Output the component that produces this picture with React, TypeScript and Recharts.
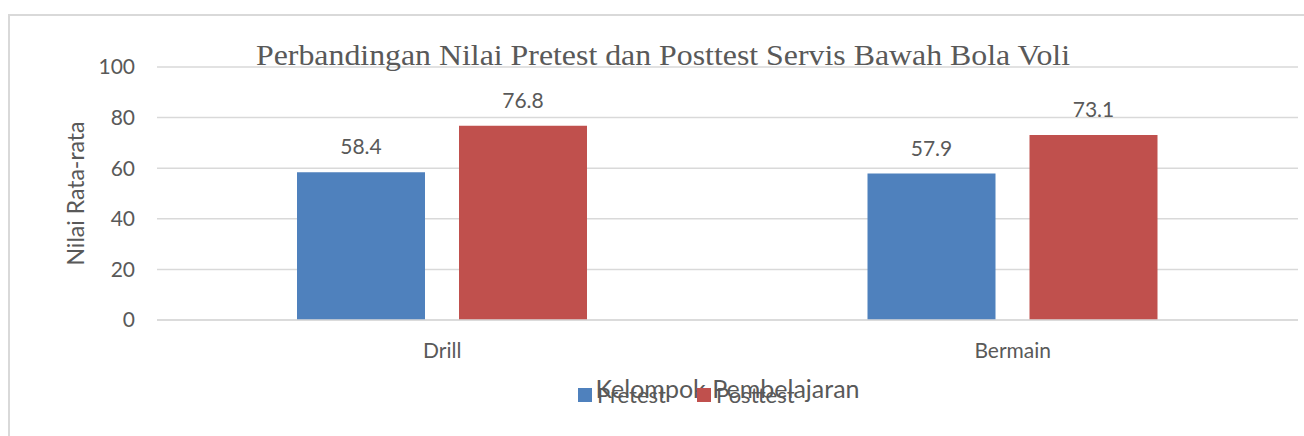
import React from 'react';
import { BarChart, Bar, XAxis, YAxis, CartesianGrid, Legend, LabelList, Customized } from 'recharts';

const categories = ['Drill', 'Bermain'];
const pretest = [58.4, 57.9];
const posttest = [76.8, 73.1];
const yTicks = [0, 20, 40, 60, 80, 100];
const title = 'Perbandingan Nilai Pretest dan Posttest Servis Bawah Bola Voli';
const xLabel = 'Kelompok Pembelajaran';
const yLabel = 'Nilai Rata-rata';
const seriesNames = ['Pretest', 'Posttest'];
const colors = ['#4f81bd', '#c0504d'];

const data = categories.map((c, i) => ({ name: c, Pretest: pretest[i], Posttest: posttest[i] }));

const FONT = 'Lato, "Noto Sans", sans-serif';
const TXT = '#595959';

const Title = () => (
  <text
    x={256}
    y={65}
    fontFamily='"Liberation Serif", "DejaVu Serif", serif'
    fontSize={30}
    fill={TXT}
    textLength={814}
    lengthAdjust="spacingAndGlyphs"
  >
    {title}
  </text>
);

const LegendContent = () => (
  <div style={{ display: 'flex', alignItems: 'center', fontFamily: FONT, fontSize: 22, color: TXT, lineHeight: '22px' }}>
    {seriesNames.map((n, i) => (
      <div key={n} style={{ display: 'flex', alignItems: 'center', width: i === 0 ? 119 : 110 }}>
        <span style={{ display: 'inline-block', width: 14, height: 14, background: colors[i], marginRight: 5 }} />
        <span>{n}</span>
      </div>
    ))}
  </div>
);

export default function App() {
  return (
    <div style={{ position: 'absolute', left: 0, top: 0, width: 1304, height: 436, background: '#fff' }}>
      <div
        style={{
          position: 'absolute',
          left: 8,
          top: 14,
          width: 1300,
          height: 430,
          borderLeft: '2px solid #d9d9d9',
          borderTop: '2px solid #d9d9d9',
          boxSizing: 'border-box',
        }}
      />
      <div style={{ position: 'absolute', left: 0, top: 0 }}>
        <BarChart
          width={1304}
          height={436}
          data={data}
          margin={{ top: 67, right: 6, bottom: 76, left: 0 }}
          barGap={34}
        >
          <CartesianGrid vertical={false} stroke="#d9d9d9" strokeWidth={1.5} />
          <XAxis
            dataKey="name"
            height={40}
            axisLine={{ stroke: '#d9d9d9', strokeWidth: 1.5 }}
            tickLine={false}
            tickSize={6}
            tickMargin={17}
            tick={{ fill: TXT, fontSize: 21, fontFamily: FONT }}
            label={{
              content: ({ viewBox }: any) => (
                <text
                  x={viewBox.x + viewBox.width / 2}
                  y={398}
                  textAnchor="middle"
                  fontFamily={FONT}
                  fontSize={25}
                  fill={TXT}
                >
                  {xLabel}
                </text>
              ),
            }}
          />
          <YAxis
            width={157}
            domain={[0, 100]}
            ticks={yTicks}
            axisLine={false}
            tickLine={false}
            tickSize={6}
            tickMargin={16}
            tick={{ fill: TXT, fontSize: 21, fontFamily: FONT }}
            label={{
              content: ({ viewBox }: any) => {
                const cx = 75;
                const cy = viewBox.y + viewBox.height / 2;
                return (
                  <text
                    x={cx}
                    y={cy}
                    transform={`rotate(-90, ${cx}, ${cy})`}
                    textAnchor="middle"
                    dominantBaseline="central"
                    fontFamily={FONT}
                    fontSize={23}
                    fill={TXT}
                  >
                    {yLabel}
                  </text>
                );
              },
            }}
          />
          <Legend
            layout="horizontal"
            verticalAlign="middle"
            align="center"
            content={<LegendContent />}
            wrapperStyle={{ position: 'absolute', left: 578, top: 384, width: 260, bottom: 'auto' }}
          />
          <Bar dataKey="Pretest" fill={colors[0]} barSize={128} isAnimationActive={false}>
            <LabelList dataKey="Pretest" position="top" offset={18} fill={TXT} fontSize={21} fontFamily={FONT} />
          </Bar>
          <Bar dataKey="Posttest" fill={colors[1]} barSize={128} isAnimationActive={false}>
            <LabelList dataKey="Posttest" position="top" offset={18} fill={TXT} fontSize={21} fontFamily={FONT} />
          </Bar>
          <Customized component={Title} />
        </BarChart>
      </div>
    </div>
  );
}
